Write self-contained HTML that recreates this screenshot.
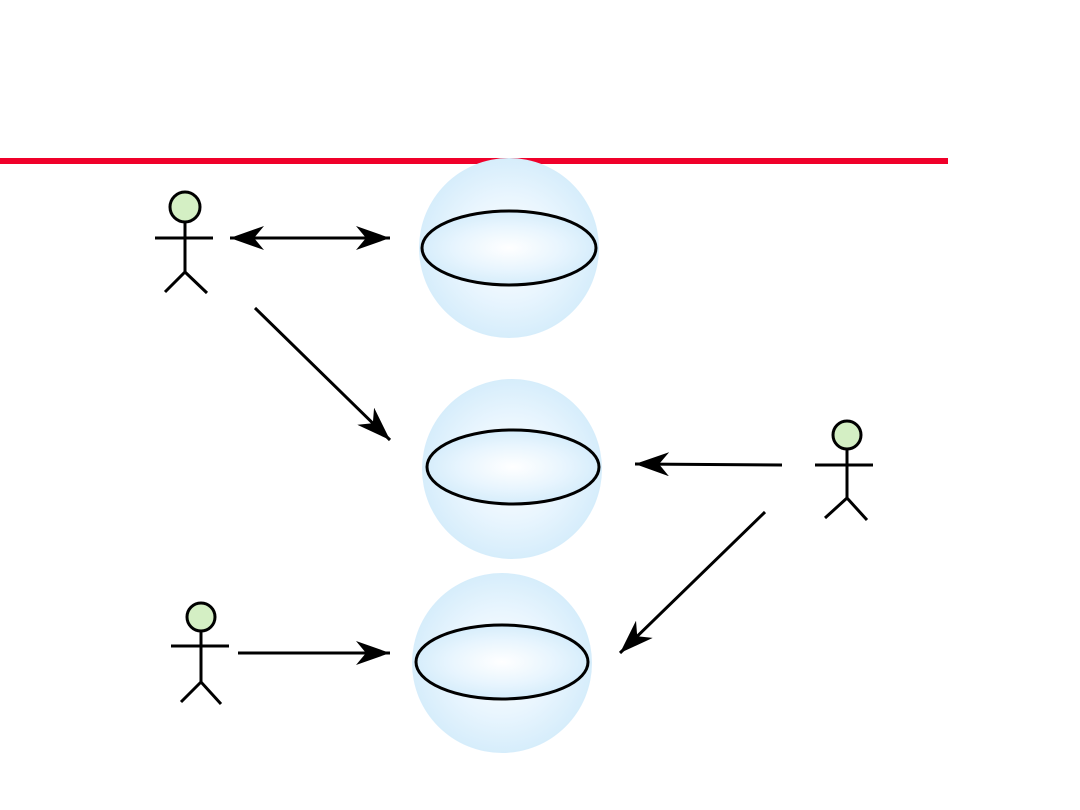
<!DOCTYPE html>
<html><head><style>html,body{margin:0;padding:0;background:#fff;width:1080px;height:810px;overflow:hidden}</style></head>
<body>
<svg width="1080" height="810" viewBox="0 0 1080 810">
<defs>
<radialGradient id="g" cx="50%" cy="50%" r="50%">
<stop offset="0" stop-color="#ffffff"/><stop offset="0.6" stop-color="#e8f5fe"/><stop offset="1" stop-color="#d6edfb"/>
</radialGradient>
<marker id="a" viewBox="0 0 34 24" refX="34" refY="12" markerWidth="34" markerHeight="24" markerUnits="userSpaceOnUse" orient="auto-start-reverse">
<path d="M0,0 L34,12 L0,24 L10,12 Z" fill="#000"/>
</marker>
</defs>
<rect x="0" y="158" width="948" height="6" fill="#f0002a"/>
<g stroke="#000" stroke-width="3">
<circle cx="509" cy="248" r="90" fill="url(#g)" stroke="none"/>
<ellipse cx="509" cy="248" rx="87" ry="37" fill="url(#g)"/>
<circle cx="512" cy="469" r="90" fill="url(#g)" stroke="none"/>
<ellipse cx="513" cy="467" rx="86" ry="37" fill="url(#g)"/>
<circle cx="502" cy="663" r="90" fill="url(#g)" stroke="none"/>
<ellipse cx="502" cy="662" rx="86" ry="37" fill="url(#g)"/>
</g>
<g stroke="#000" stroke-width="3" fill="none">
<circle cx="185" cy="207" r="15" fill="#d4efc4"/>
<path d="M155,238H213M185,222V272M165,292L185,272L207,293"/>
<circle cx="847" cy="435" r="14" fill="#d4efc4"/>
<path d="M815,465H873M847,449V498M825,518L847,498L867,520"/>
<circle cx="201" cy="617" r="14" fill="#d4efc4"/>
<path d="M171,646H229M201,631V682M181,702L201,682L221,704"/>
</g>
<g stroke="#000" stroke-width="3" fill="none">
<line x1="230" y1="238" x2="390" y2="238" marker-start="url(#a)" marker-end="url(#a)"/>
<line x1="255" y1="308" x2="390" y2="440" marker-end="url(#a)"/>
<line x1="782" y1="465" x2="635" y2="464" marker-end="url(#a)"/>
<line x1="765" y1="512" x2="620" y2="653" marker-end="url(#a)"/>
<line x1="238" y1="653" x2="390" y2="653" marker-end="url(#a)"/>
</g>
</svg>
</body></html>
